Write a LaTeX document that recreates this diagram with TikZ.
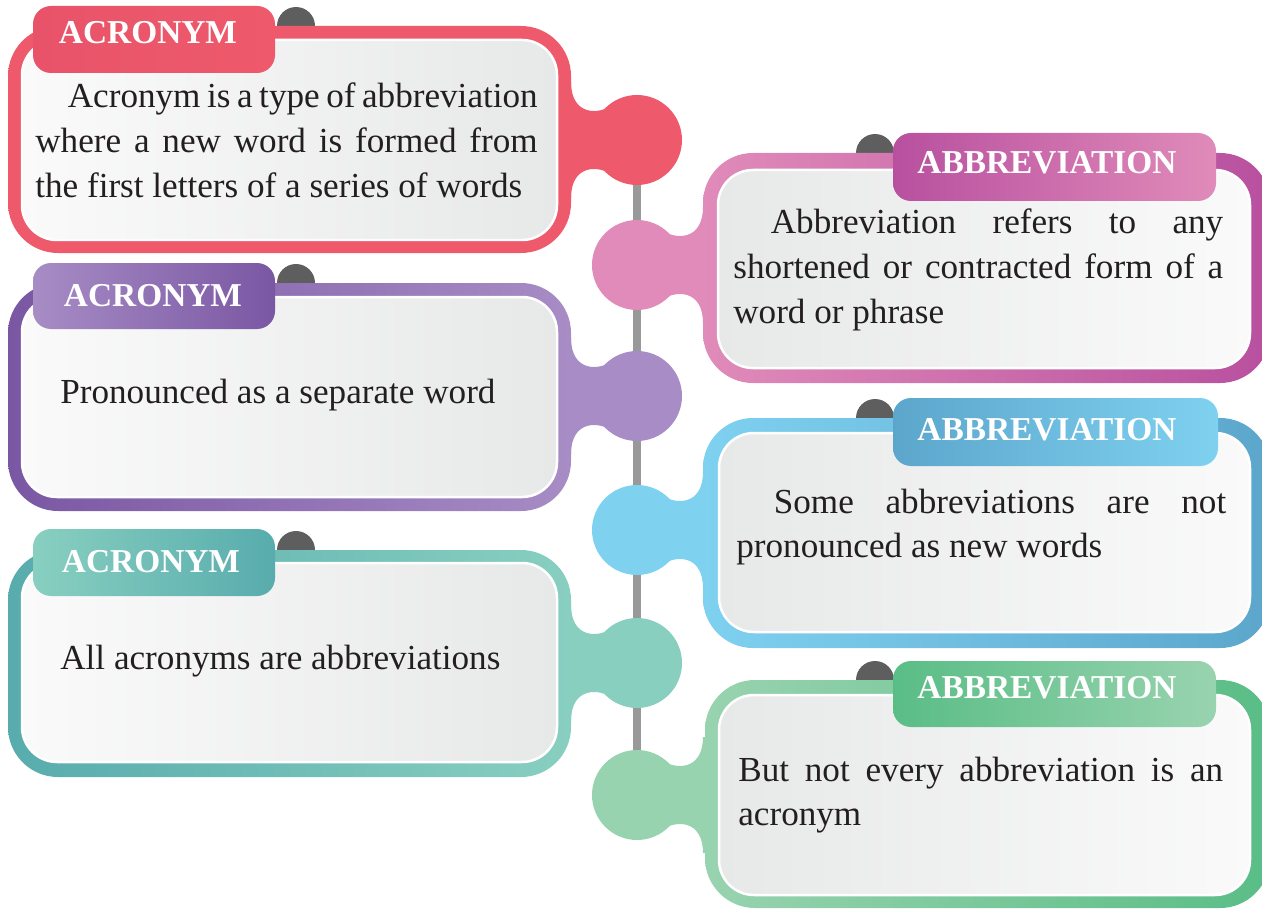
\documentclass[tikz,border=0pt]{standalone}
\usepackage{fontspec}
\setmainfont{Liberation Serif}
\usepackage{xcolor}
\usetikzlibrary{backgrounds}
\definecolor{redA}{HTML}{EE5A6B}
\definecolor{redB}{HTML}{E8536A}
\definecolor{purpleL}{HTML}{A78CC5}
\definecolor{purpleD}{HTML}{7A57A3}
\definecolor{tealL}{HTML}{88CFC0}
\definecolor{tealD}{HTML}{58ACAD}
\definecolor{pinkL}{HTML}{E08BB9}
\definecolor{pinkD}{HTML}{B8509F}
\definecolor{blueL}{HTML}{7FD1F0}
\definecolor{blueD}{HTML}{5CA6CC}
\definecolor{greenL}{HTML}{98D3AF}
\definecolor{greenD}{HTML}{5ABD86}
\definecolor{paneW}{HTML}{FAFAFA}
\definecolor{paneG}{HTML}{E7E8E8}
\definecolor{spinegray}{HTML}{999999}
\definecolor{bumpgray}{HTML}{5E5E5E}
\definecolor{inkdark}{HTML}{231F20}
\newcommand{\bodyfont}{\fontsize{20}{25.6}\selectfont}
\newcommand{\headfont}{\fontsize{19}{22}\selectfont\bfseries}
\tikzset{
	knob/.style={circle, minimum size=1.8cm, inner sep=0pt},
	spine/.style={draw=spinegray, line width=0.16cm},
	bump/.style={fill=bumpgray},
	frame/.style={rounded corners=1cm},
	pane/.style={rounded corners=0.7cm, draw=white, line width=0.05cm},
	tab/.style={rounded corners=0.36cm},
	head/.style={text=white, font=\headfont, inner sep=0pt},
	body/.style={text=inkdark, font=\bodyfont, inner sep=0pt, anchor=base west},
	para/.style={body, align=justify}
}
\begin{document}
\begin{tikzpicture}[x=0.02cm, y=-0.02cm]
	\newcommand{\neckL}[2]{\fill[#2] (555, #1-58) -- (571, #1-58) .. controls (571, #1-25) and (598, #1-24) .. (614, #1-36) -- (637, #1) -- (614, #1+36) .. controls (598, #1+24) and (571, #1+25) .. (571, #1+58) -- (555, #1+58) -- cycle;}
	\newcommand{\neckR}[2]{\fill[#2] (719, #1-58) -- (703, #1-58) .. controls (703, #1-25) and (676, #1-24) .. (660, #1-36) -- (637, #1) -- (660, #1+36) .. controls (676, #1+24) and (703, #1+25) .. (703, #1+58) -- (719, #1+58) -- cycle;}
	\useasboundingbox (0, 0) rectangle (1262, 909);
	
	\fill[bump] (296, 26) circle (19);
	\neckL{140}{redA}
	\shade[frame, left color=redA, right color=redA] (8, 26) rectangle (571, 253);
	\shadedraw[pane, left color=paneW, right color=paneG] (22, 40) rectangle (557, 240);
	\shade[tab, left color=redB, right color=redA] (33, 6) rectangle (275, 73);
	\node[knob, fill=redA] (acr1) at (637, 140) {};
	\node[head] (acr1title) at (148, 33) {ACRONYM};
	\node[para, text width=10.05cm] (acr1text) at (35, 108) {\hspace*{0.65cm}Acronym is a type of abbreviation\linebreak where a new word is formed from\linebreak the first letters of a series of words};
	
	\fill[bump] (296, 283) circle (19);
	\neckL{396}{purpleL}
	\shade[frame, left color=purpleD, right color=purpleL] (8, 283) rectangle (571, 511);
	\shadedraw[pane, left color=paneW, right color=paneG] (22, 297) rectangle (557, 497);
	\shade[tab, left color=purpleL, right color=purpleD] (33, 263) rectangle (275, 329);
	\node[knob, fill=purpleL] (acr2) at (637, 396) {};
	\node[head] (acr2title) at (153, 296) {ACRONYM};
	\node[body] (acr2text) at (60, 403) {Pronounced as a separate word};
	
	\fill[bump] (296, 550) circle (19);
	\neckL{663}{tealL}
	\shade[frame, left color=tealD, right color=tealL] (8, 550) rectangle (571, 777);
	\shadedraw[pane, left color=paneW, right color=paneG] (22, 563) rectangle (557, 762);
	\shade[tab, left color=tealL, right color=tealD] (33, 529) rectangle (275, 596);
	\node[knob, fill=tealL] (acr3) at (637, 663) {};
	\node[head] (acr3title) at (151, 562) {ACRONYM};
	\node[body] (acr3text) at (60, 669) {All acronyms are abbreviations};
	
	\fill[bump] (875, 153) circle (19);
	\neckR{265}{pinkL}
	\shade[frame, left color=pinkL, right color=pinkD] (703, 153) rectangle (1270, 383);
	\shadedraw[pane, left color=paneG, right color=paneW] (718, 170) rectangle (1250, 368);
	\shade[tab, left color=pinkD, right color=pinkL] (893, 133) rectangle (1216, 201);
	\node[knob, fill=pinkL] (abr1) at (637, 265) {};
	\node[head] (abr1title) at (1047, 163) {ABBREVIATION};
	\node[para, text width=9.8cm] (abr1text) at (733, 234) {\hspace*{0.75cm}Abbreviation refers to any\linebreak shortened or contracted form of a\linebreak word or phrase};
	
	\fill[bump] (875, 418) circle (19);
	\neckR{530}{blueL}
	\shade[frame, left color=blueL, right color=blueD] (703, 418) rectangle (1270, 648);
	\shadedraw[pane, left color=paneG, right color=paneW] (719, 433) rectangle (1250, 632);
	\shade[tab, left color=blueD, right color=blueL] (893, 398) rectangle (1218, 466);
	\node[knob, fill=blueL] (abr2) at (637, 530) {};
	\node[head] (abr2title) at (1047, 430) {ABBREVIATION};
	\node[para, text width=9.8cm] (abr2text) at (736, 513) {\hspace*{0.75cm}Some abbreviations are not\linebreak pronounced as new words};
	
	\fill[bump] (875, 680) circle (19);
	\neckR{795}{greenL}
	\shade[frame, left color=greenL, right color=greenD] (705, 680) rectangle (1270, 908);
	\shadedraw[pane, left color=paneG, right color=paneW] (719, 695) rectangle (1250, 895);
	\shade[tab, left color=greenD, right color=greenL] (893, 661) rectangle (1216, 727);
	\node[knob, fill=greenL] (abr3) at (637, 795) {};
	\node[head] (abr3title) at (1047, 688) {ABBREVIATION};
	\node[para, text width=9.7cm] (abr3text) at (738, 781) {But not every abbreviation is an\linebreak acronym};
	
	\begin{scope}[on background layer]
		\draw[spine] (acr1) -- (abr1) -- (acr2) -- (abr2) -- (acr3) -- (abr3);
	\end{scope}
\end{tikzpicture}
\end{document}
